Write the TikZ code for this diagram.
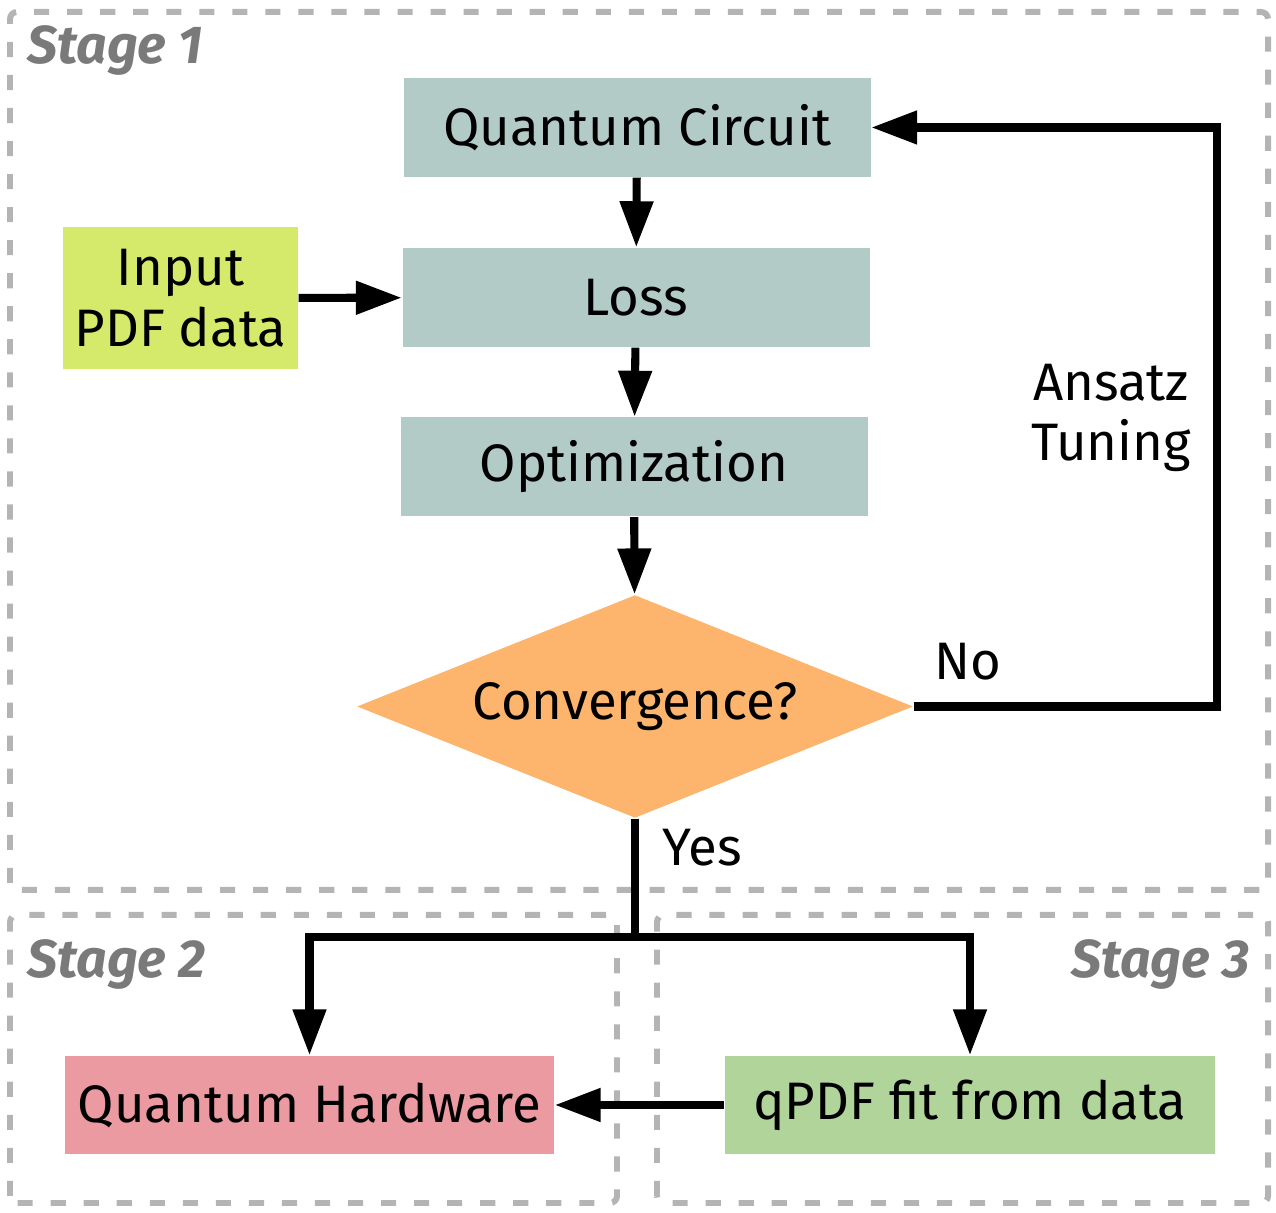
\documentclass[tikz,border=0pt]{standalone}
\usepackage{fontspec}
\setmainfont{Fira Sans}
\usetikzlibrary{arrows.meta,positioning,shapes.geometric}
\definecolor{CircTeal}  {HTML}{B3CBC7}
\definecolor{InputLime} {HTML}{D5EA6B}
\definecolor{ConvOrange}{HTML}{FDB46D}
\definecolor{HwPink}    {HTML}{EC9AA2}
\definecolor{FitGreen}  {HTML}{B1D49B}
\definecolor{DashGray}  {HTML}{B4B4B4}
\definecolor{StageGray} {HTML}{7A7A7A}
\tikzset{
  stepbox/.style={rectangle,fill=#1,inner sep=0pt,
                  font=\fontsize{15}{17}\selectfont,
                  minimum width=4.67cm,minimum height=0.99cm},
  decision/.style={diamond,aspect=2.5,fill=ConvOrange,inner sep=0pt,
                   font=\fontsize{15}{17}\selectfont,
                   minimum width=5.56cm,minimum height=2.23cm},
  stagebox/.style={draw=DashGray,line width=1.7pt,rounded corners=2pt,
                   dash pattern=on 4.3pt off 5.1pt},
  stagelbl/.style={font=\fontsize{15.2}{17}\selectfont\bfseries\itshape\color{StageGray}},
  lbl/.style={font=\fontsize{15}{17}\selectfont},
  arr/.style={-{Triangle[length=0.46cm,width=0.32cm]},line width=2.3pt},
  seg/.style={line width=2.3pt},
}
\begin{document}
\begin{tikzpicture}

  \useasboundingbox (0,0) rectangle (12.76,12.13);

  % stage frames
  \draw[stagebox] (0.10,3.23) rectangle (12.68,12.01);
  \draw[stagebox] (0.10,0.10) rectangle (6.17,2.98);
  \draw[stagebox] (6.57,0.10) rectangle (12.68,2.98);
  \node[stagelbl,anchor=west] (s1) at (0.15,11.62) {Stage 1};
  \node[stagelbl,anchor=west] (s2) at (0.15,2.48) {Stage 2};
  \node[stagelbl,anchor=east] (s3) at (12.62,2.48) {Stage 3};

  % stage 1 loop
  \node[stepbox=CircTeal] (qcirc) at (6.37,10.855) {Quantum Circuit};
  \node[stepbox=CircTeal] (loss)  at (6.36,9.155) {Loss};
  \node[stepbox=CircTeal] (optim) at (6.34,7.46) {Optimization};
  \node[stepbox=InputLime,minimum width=2.35cm,minimum height=1.42cm,
        align=center,font=\fontsize{15}{17.5}\selectfont] (input) at (1.805,9.15) {Input\\PDF data};
  \node[decision] (conv) at (6.35,5.065) {Convergence?};

  % stages 2 and 3
  \node[stepbox=HwPink,minimum width=4.89cm,minimum height=0.98cm] (qhw) at (3.095,1.08) {Quantum Hardware};
  \node[stepbox=FitGreen,minimum width=4.90cm,minimum height=0.98cm] (qfit) at (9.70,1.08) {qPDF fit from data};

  \coordinate (split) at (6.35,2.76);
  \coordinate (back) at (12.17,5.065);

  \draw[arr] (qcirc) -- (loss);
  \draw[arr] (loss) -- (optim);
  \draw[arr] (optim) -- (conv);
  \draw[arr] (input) -- (loss);
  \draw[arr] (conv.east) -- (back) |- (qcirc.east);
  \draw[seg] (conv.south) -- (split);
  \draw[arr] (split) -| (qhw.north);
  \draw[arr] (split) -| (qfit.north);
  \draw[arr] (qfit) -- (qhw);

  % branch labels
  \node[lbl] (nolbl) at (9.68,5.51) {No};
  \node[lbl] (yeslbl) at (7.02,3.65) {Yes};
  \node[lbl,align=center] (tune) at (11.11,7.95) {Ansatz\\Tuning};

\end{tikzpicture}
\end{document}
